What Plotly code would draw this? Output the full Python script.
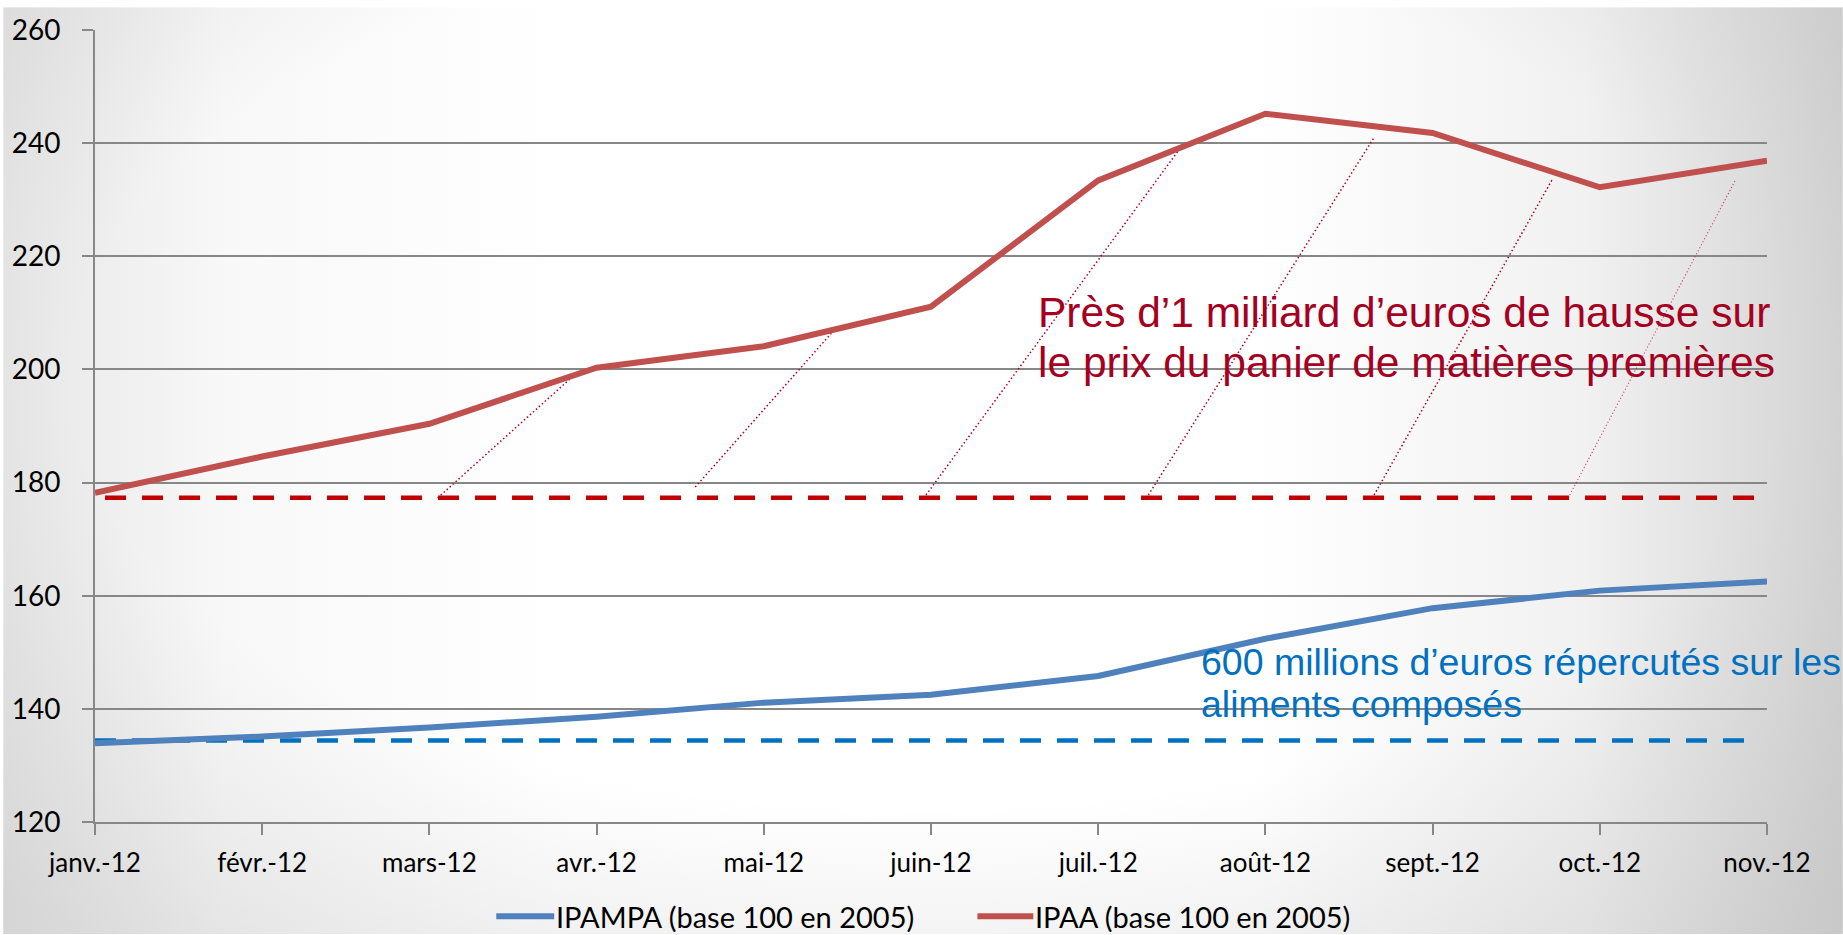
import base64
import plotly.graph_objects as go

# month labels and index values
months = ['janv.-12', 'févr.-12', 'mars-12', 'avr.-12', 'mai-12', 'juin-12',
          'juil.-12', 'août-12', 'sept.-12', 'oct.-12', 'nov.-12']
ipaa = [178.2, 184.6, 190.4, 200.3, 204.1, 211.1, 233.4, 245.2, 241.8, 232.2, 236.9]
ipampa = [133.9, 135.1, 136.7, 138.6, 141.1, 142.5, 145.8, 152.4, 157.8, 160.9, 162.5]

# starting levels (dashed reference lines) and their x span
ipaa_ref = 177.3
ipaa_ref_span = [0.06, 10]
ipampa_ref = 134.4
ipampa_ref_span = [0, 9.92]

# dotted hatching between the starting level and the IPAA curve
hatch_x0 = [2.05, 3.59, 4.97, 6.30, 7.65]
hatch_y0 = [177.3, 179.2, 177.8, 177.8, 177.8]
hatch_x1 = [2.84, 4.41, 6.48, 7.65, 8.72]
hatch_y1 = [198.3, 206.6, 238.7, 241.0, 233.8]
hatch_last_x = [8.82, 9.81]
hatch_last_y = [177.8, 233.4]

series_names = ['IPAMPA (base 100 en 2005)', 'IPAA (base 100 en 2005)']

RED = '#C0504D'
BLUE = '#4F81BD'
GRID = '#878787'

x = list(range(len(months)))

# slide-like grey vignette behind the chart: light at the centre, grey toward the sides
svg = ("<svg xmlns='http://www.w3.org/2000/svg' width='1843' height='935' preserveAspectRatio='none'>"
       "<defs>"
       "<linearGradient id='h' x1='0' y1='0' x2='1' y2='0'>"
       "<stop offset='0' stop-color='#e6e6e6'/><stop offset='0.12' stop-color='#f8f8f8'/>"
       "<stop offset='0.3' stop-color='#ffffff'/><stop offset='0.68' stop-color='#ffffff'/>"
       "<stop offset='0.86' stop-color='#f1f1f1'/><stop offset='1' stop-color='#d3d3d3'/>"
       "</linearGradient>"
       "<radialGradient id='c' cx='0.5' cy='0.4' r='0.75'>"
       "<stop offset='0.62' stop-color='#b0b0b0' stop-opacity='0'/>"
       "<stop offset='1' stop-color='#b0b0b0' stop-opacity='0.3'/>"
       "</radialGradient></defs>"
       "<rect width='1843' height='935' fill='url(#h)'/>"
       "<rect width='1843' height='935' fill='url(#c)'/></svg>")
bg_src = 'data:image/svg+xml;base64,' + base64.b64encode(svg.encode()).decode()

fig = go.Figure()

hx, hy = [], []
for a, b, c, d in zip(hatch_x0, hatch_y0, hatch_x1, hatch_y1):
    hx += [a, c, None]
    hy += [b, d, None]
fig.add_trace(go.Scatter(x=hx, y=hy, mode='lines', showlegend=False, hoverinfo='skip',
                         line=dict(color='#B0002A', width=1.5, dash='1.5px,2.5px')))
fig.add_trace(go.Scatter(x=hatch_last_x, y=hatch_last_y, mode='lines', showlegend=False,
                         hoverinfo='skip', opacity=0.7,
                         line=dict(color='#C0003A', width=1.1, dash='1.2px,2.2px')))

# starting levels
fig.add_trace(go.Scatter(x=ipaa_ref_span, y=[ipaa_ref] * 2, mode='lines', showlegend=False,
                         line=dict(color='#C00000', width=4.5, dash='21px,16px')))
fig.add_trace(go.Scatter(x=ipampa_ref_span, y=[ipampa_ref] * 2, mode='lines', showlegend=False,
                         line=dict(color='#0070C0', width=4.5, dash='21px,16px')))

fig.add_trace(go.Scatter(x=x, y=ipampa, mode='lines', name=series_names[0], showlegend=False,
                         line=dict(color=BLUE, width=6)))
fig.add_trace(go.Scatter(x=x, y=ipaa, mode='lines', name=series_names[1], showlegend=False,
                         line=dict(color=RED, width=6)))

# text callouts
notes = [
    ('Près d’1 milliard d’euros de hausse sur', 5.63, 210.1, '#A50021', 42.5),
    ('le prix du panier de matières premières', 5.63, 201.2, '#A50021', 42.5),
    ('600 millions d’euros répercutés sur les', 6.60, 148.3, '#0070C0', 37.5),
    ('aliments composés', 6.60, 140.8, '#0070C0', 37.5),
]
for txt, nx, ny, col, sz in notes:
    fig.add_annotation(x=nx, y=ny, text=txt, showarrow=False, xanchor='left', yanchor='middle',
                       font=dict(family='Liberation Sans, Arial', size=sz, color=col))

# hand-drawn legend at the bottom (long line swatches like the original)
legend_pos = [(494, 552), (976, 1032)]
for name, col, (s0, s1) in zip(series_names, [BLUE, RED], legend_pos):
    fig.add_shape(type='line', xref='paper', yref='paper',
                  x0=(s0 - 92) / 1675, x1=(s1 - 92) / 1675, y0=-0.119, y1=-0.119,
                  line=dict(color=col, width=6))
    fig.add_annotation(xref='paper', yref='paper', x=(s1 - 92) / 1675, y=-0.119,
                       text=name, showarrow=False, xanchor='left', yanchor='middle',
                       font=dict(family='Lato', size=29, color='black'))

fig.update_layout(
    width=1843, height=935,
    margin=dict(l=92, r=76, t=23, b=113),
    paper_bgcolor='white',
    plot_bgcolor='rgba(0,0,0,0)',
    showlegend=False,
    images=[dict(source=bg_src, xref='paper', yref='paper',
                 x=-92 / 1675, y=1 + 23 / 799, sizex=1843 / 1675, sizey=935 / 799,
                 sizing='stretch', layer='below', xanchor='left', yanchor='top')],
    xaxis=dict(range=[0, 10], tickvals=x, ticktext=months, showgrid=False,
               showline=True, linecolor=GRID, linewidth=2, zeroline=False,
               ticks='outside', ticklen=11, tickwidth=2, tickcolor=GRID,
               ticklabelstandoff=6,
               tickfont=dict(family='Lato', size=26, color='black')),
    yaxis=dict(range=[120, 260], tickvals=list(range(120, 261, 20)),
               showgrid=True, gridcolor=GRID, gridwidth=2,
               showline=True, linecolor=GRID, linewidth=2, zeroline=False,
               ticks='outside', ticklen=11, tickwidth=2, tickcolor=GRID,
               ticklabelstandoff=16,
               tickfont=dict(family='Lato', size=28, color='black')),
)

fig.write_html('out.html', config={'displayModeBar': False},
               post_script="document.body.style.margin='0';document.body.style.overflow='hidden';")
